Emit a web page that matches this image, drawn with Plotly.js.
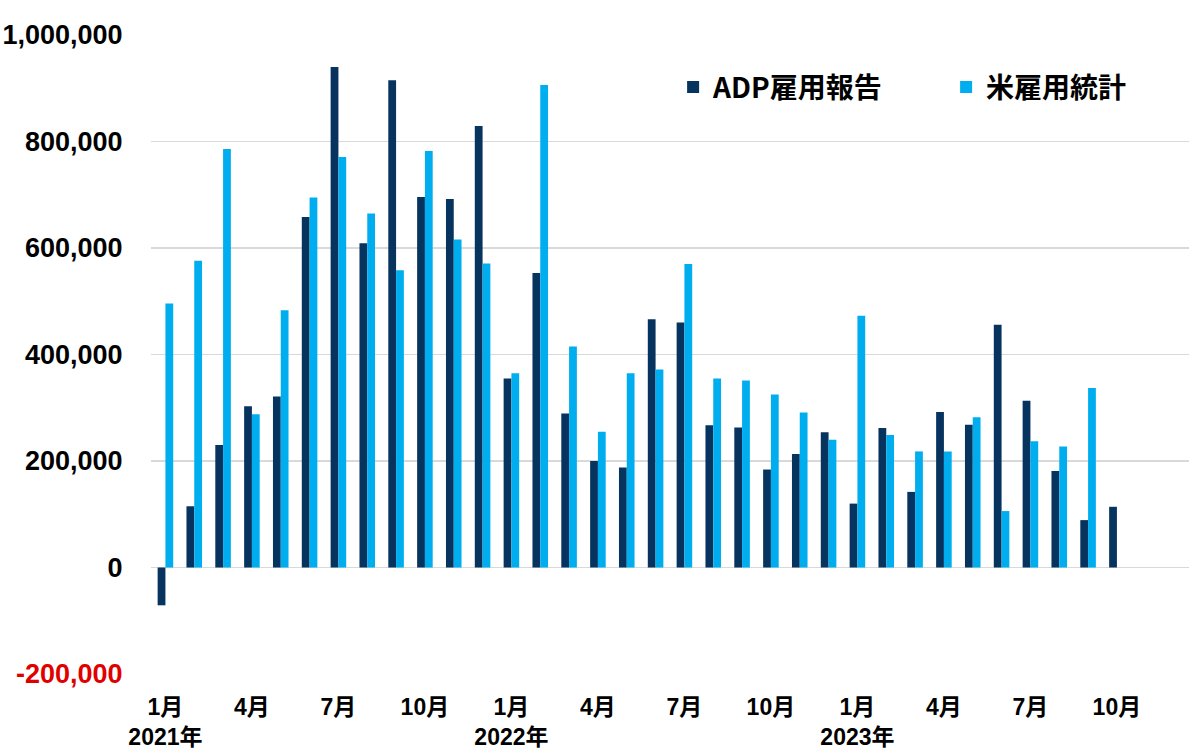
<!DOCTYPE html>
<html>
<head>
<meta charset="utf-8">
<script src="https://cdn.plot.ly/plotly-3.0.1.min.js"></script>
<style>
  html, body { margin: 0; padding: 0; background: #fff; }
  #chart { width: 1200px; height: 756px; }
</style>
</head>
<body>
<div id="chart"></div>
<script>
// 月（2021年1月〜2023年12月）
const months = [
  "2021-01", "2021-02", "2021-03", "2021-04", "2021-05", "2021-06",
  "2021-07", "2021-08", "2021-09", "2021-10", "2021-11", "2021-12",
  "2022-01", "2022-02", "2022-03", "2022-04", "2022-05", "2022-06",
  "2022-07", "2022-08", "2022-09", "2022-10", "2022-11", "2022-12",
  "2023-01", "2023-02", "2023-03", "2023-04", "2023-05", "2023-06",
  "2023-07", "2023-08", "2023-09", "2023-10", "2023-11", "2023-12"
];

// ADP雇用報告（前月比、人）
const adp = [
  -71000, 115000, 230000, 303000, 321000, 658000,
  940000, 609000, 915000, 696000, 692000, 829000,
  355000, 553000, 289000, 200000, 188000, 466000,
  460000, 267000, 263000, 184000, 213000, 254000,
  120000, 262000, 142000, 292000, 268000, 456000,
  313000, 181000, 89000, 114000, null, null
];

// 米雇用統計（非農業部門雇用者数、前月比）
const nfp = [
  496000, 576000, 786000, 288000, 483000, 695000,
  771000, 665000, 558000, 782000, 616000, 571000,
  365000, 906000, 415000, 255000, 365000, 372000,
  570000, 355000, 351000, 325000, 291000, 240000,
  473000, 249000, 218000, 218000, 282000, 106000,
  237000, 227000, 337000, null, null, null
];

// 横軸の目盛り
const xTickVals = [
  "2021-01", "2021-04", "2021-07", "2021-10",
  "2022-01", "2022-04", "2022-07", "2022-10",
  "2023-01", "2023-04", "2023-07", "2023-10"
];
const xTickText = [
  "1月<br>2021年", "4月", "7月", "10月",
  "1月<br>2022年", "4月", "7月", "10月",
  "1月<br>2023年", "4月", "7月", "10月"
];

// 縦軸の目盛り（マイナスは赤字）
const yTickVals = [-200000, 0, 200000, 400000, 600000, 800000, 1000000];
const yTickText = [
  '<span style="color:#e00000">-200,000</span>',
  "0", "200,000", "400,000", "600,000", "800,000", "1,000,000"
];

const fontFamily = "Liberation Sans, Arial, Noto Sans CJK JP, sans-serif";

const traces = [
  {
    type: "bar",
    name: "ADP雇用報告",
    x: months,
    y: adp,
    marker: { color: "#07335f" },
    hoverinfo: "skip"
  },
  {
    type: "bar",
    name: "米雇用統計",
    x: months,
    y: nfp,
    marker: { color: "#00aeef" },
    hoverinfo: "skip"
  }
];

const layout = {
  width: 1200,
  height: 756,
  margin: { l: 151, r: 11, t: 35, b: 82, autoexpand: false },
  paper_bgcolor: "#fff",
  plot_bgcolor: "#fff",
  barmode: "group",
  bargap: 0.46,
  bargroupgap: 0,
  font: { family: fontFamily, color: "#000" },
  xaxis: {
    type: "category",
    range: [-0.5, 35.5],
    tickmode: "array",
    tickvals: xTickVals,
    ticktext: xTickText,
    tickfont: { family: fontFamily, size: 23, weight: "bold", color: "#000" },
    ticks: "outside",
    ticklen: 12,
    tickcolor: "rgba(0,0,0,0)",
    showgrid: false,
    showline: false,
    zeroline: false,
    fixedrange: true
  },
  yaxis: {
    range: [-200000, 1000000],
    tickmode: "array",
    tickvals: yTickVals,
    ticktext: yTickText,
    tickfont: { family: fontFamily, size: 27, weight: "bold", color: "#000" },
    ticks: "outside",
    ticklen: 22,
    tickcolor: "rgba(0,0,0,0)",
    showgrid: true,
    gridcolor: "#d9d9d9",
    gridwidth: 1.5,
    zeroline: true,
    zerolinecolor: "#d9d9d9",
    zerolinewidth: 1.5,
    showline: false,
    fixedrange: true
  },
  showlegend: true,
  legend: {
    orientation: "h",
    x: 0.503,
    xanchor: "left",
    y: 0.918,
    yanchor: "middle",
    entrywidth: 228,
    entrywidthmode: "pixels",
    bgcolor: "rgba(0,0,0,0)",
    font: { family: "Noto Sans CJK JP, Liberation Sans, sans-serif", size: 28, weight: "bold", color: "#000" }
  }
};

Plotly.newPlot("chart", traces, layout, { displayModeBar: false, staticPlot: true });
</script>
</body>
</html>
